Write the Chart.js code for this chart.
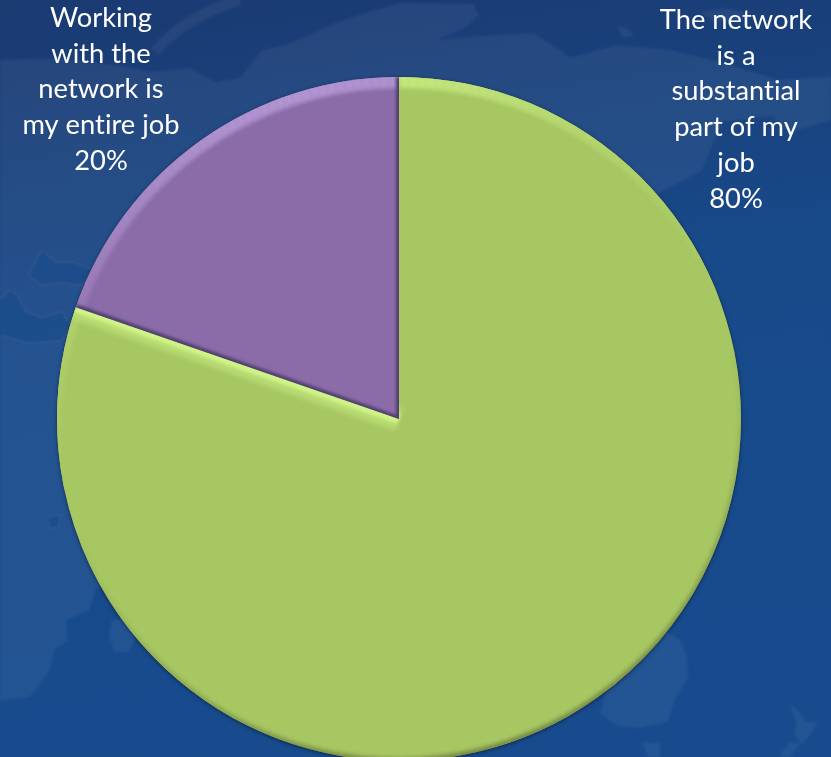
<!DOCTYPE html>
<html>
<head>
<meta charset="utf-8">
<script src="https://cdn.jsdelivr.net/npm/chart.js@4"></script>
<style>
    html, body { margin: 0; padding: 0; width: 831px; height: 757px; overflow: hidden; background: #174a8c; }
    #map { position: absolute; left: 0; top: 0; }
    #myChart { position: absolute; left: 0; top: 0; }
</style>
</head>
<body>
<!-- faint world map behind the chart -->
<svg id="map" width="831" height="757" viewBox="0 0 831 757">
    <defs>
        <linearGradient id="sky" x1="0.1" y1="0" x2="0.25" y2="1">
            <stop offset="0" stop-color="#1a3a72"/>
            <stop offset="0.45" stop-color="#184a8a"/>
            <stop offset="1" stop-color="#174b8d"/>
        </linearGradient>
        <filter id="soft"><feGaussianBlur stdDeviation="1.2"/></filter>
    </defs>
    <rect width="831" height="757" fill="url(#sky)"/>
    <g filter="url(#soft)">
        <g fill="#ffffff" fill-opacity="0.05">
            <path d="M0,60 L60,58 L120,66 L152,72 L190,68 L215,82 L240,78 L262,50 L285,45 L305,37 L335,23 L368,12 L400,3 L473,4 L479,15 L466,27 L437,40 L480,36 L533,33 L560,50 L570,58 L617,45 L670,50 L720,62 L780,80 L831,76 L831,120 L790,132 L772,116 L722,122 L702,170 L660,192 L600,260 L400,500 L150,560 L95,590 L90,610 L66,620 L68,640 L54,650 L50,670 L30,697 L0,701 Z"/>
            <path d="M612,635 L668,632 L680,640 L687,655 L688,678 L675,700 L668,722 L640,728 L618,726 L600,714 L606,690 Z"/>
            <path d="M112,620 L130,618 L135,640 L128,652 L114,652 L109,636 Z"/>
            <path d="M790,705 L800,712 L806,722 L818,722 L810,735 L802,745 L795,735 L796,722 Z"/>
            <path d="M790,742 L800,744 L790,757 L778,757 Z"/>
            <path d="M642,742 L660,743 L660,757 L648,757 Z"/>
            <path d="M700,12 L725,8 L745,12 L740,20 L715,22 Z"/>
            <path d="M618,26 L630,30 L634,36 L622,37 Z"/>
        </g>
        <path d="M155,52 C172,30 205,10 240,0" fill="none" stroke="#ffffff" stroke-opacity="0.05" stroke-width="11"/>
        <g fill="#174a8a" fill-opacity="0.55">
            <path d="M0,335 L30,343 L62,340 L70,326 L62,312 L42,318 L25,312 L18,296 L10,290 L4,296 L0,300 Z"/>
            <path d="M29,275 L42,251 L55,262 L72,262 L92,270 L82,285 L60,282 L42,285 Z"/>
            <path d="M48,518 L60,515 L58,528 L50,528 Z"/>
        </g>
    </g>
</svg>
<canvas id="myChart" width="831" height="775"></canvas>

<script>
const categories = ['The network is a substantial part of my job', 'Working with the network is my entire job'];
const shareValues = [80.3, 19.7];
const labelLines = [
    ['The network', 'is a', 'substantial', 'part of my', 'job'],
    ['Working', 'with the', 'network is', 'my entire job']
];
const sliceColors = ['#a7c763', '#8b6ca9'];
const lightColors = ['#cff387', '#bc9fdc'];
const darkColors = ['#56602f', '#4f3f6e'];

// label anchors, centre x and first line y
const labelAnchors = [[736, 20], [101, 18]];
const lineHeight = 35.8;

function hexToRgb(hex) {
    return [1, 3, 5].map(i => parseInt(hex.substr(i, 2), 16));
}
function mix(a, b, t) {
    var ca = hexToRgb(a), cb = hexToRgb(b);
    return 'rgb(' + ca.map((v, i) => Math.round(v + (cb[i] - v) * t)).join(',') + ')';
}
// how much a face with this normal looks at the light
function lit(nx, ny) {
    return nx * -0.28 + ny * -0.96;
}
function shade(i, v) {
    return v > 0 ? mix(sliceColors[i], lightColors[i], Math.min(1, v))
        : mix(sliceColors[i], darkColors[i], Math.min(1, -v));
}

const pieShadow = {
    id: 'pieShadow',
    beforeDatasetsDraw(chart) {
        const a = chart.getDatasetMeta(0).data[0];
        const ctx = chart.ctx;
        ctx.save();
        ctx.shadowColor = 'rgba(0,0,0,0.6)';
        ctx.shadowBlur = 4;
        ctx.shadowOffsetY = 1;
        ctx.fillStyle = '#6f8040';
        ctx.beginPath();
        ctx.arc(a.x, a.y, a.outerRadius - 0.5, 0, Math.PI * 2);
        ctx.fill();
        ctx.restore();
    }
};

const bevel = {
    id: 'bevel',
    afterDatasetsDraw(chart) {
        const ctx = chart.ctx;
        chart.getDatasetMeta(0).data.forEach((arc, i) => {
            const p = arc.getProps(['x', 'y', 'startAngle', 'endAngle', 'outerRadius']);
            ctx.save();
            ctx.beginPath();
            ctx.moveTo(p.x, p.y);
            ctx.arc(p.x, p.y, p.outerRadius, p.startAngle, p.endAngle);
            ctx.closePath();
            ctx.clip();
            ctx.lineCap = 'butt';

            // rim of the slice
            const step = Math.PI / 120;
            ctx.filter = 'blur(2.2px)';
            for (let t = p.startAngle; t < p.endAngle; t += step) {
                const mid = t + step / 2;
                const v = lit(Math.cos(mid), Math.sin(mid));
                if (Math.abs(v) < 0.08) continue;
                const w = v > 0 ? 3 + 8 * v : 1 + 1.6 * -v;
                ctx.strokeStyle = shade(i, v > 0 ? v * v * 0.8 : v * 0.7);
                ctx.lineWidth = w * 2;
                ctx.beginPath();
                ctx.arc(p.x, p.y, p.outerRadius, t, t + step + 0.006);
                ctx.stroke();
            }

            // the two straight edges
            [[p.startAngle, -1], [p.endAngle, 1]].forEach(edge => {
                const ang = edge[0];
                const nx = Math.cos(ang + edge[1] * Math.PI / 2);
                const ny = Math.sin(ang + edge[1] * Math.PI / 2);
                const v = lit(nx, ny);
                if (v > 0 && v <= 0.5) return;
                const strokes = v > 0.5
                    ? [[12, mix(sliceColors[i], lightColors[i], 0.45), 'blur(2.5px)'], [5, lightColors[i], 'blur(1.5px)']]
                    : [[3, darkColors[i], 'blur(1.4px)']];
                strokes.forEach(s => {
                    ctx.filter = s[2];
                    ctx.strokeStyle = s[1];
                    ctx.lineWidth = s[0] * 2;
                    ctx.beginPath();
                    ctx.moveTo(p.x, p.y);
                    ctx.lineTo(p.x + Math.cos(ang) * p.outerRadius, p.y + Math.sin(ang) * p.outerRadius);
                    ctx.stroke();
                });
            });
            ctx.restore();
        });
    }
};

const sliceLabels = {
    id: 'sliceLabels',
    afterDraw(chart) {
        const ctx = chart.ctx;
        const total = shareValues.reduce((a, b) => a + b, 0);
        ctx.save();
        ctx.font = '27.3px Lato, "Open Sans", sans-serif';
        ctx.letterSpacing = '0.01px'; // stops the ti ligature
        ctx.fillStyle = '#ffffff';
        ctx.textAlign = 'center';
        ctx.textBaseline = 'middle';
        labelLines.forEach((lines, i) => {
            const all = lines.concat(Math.round(shareValues[i] / total * 100) + '%');
            all.forEach((line, n) => {
                ctx.fillText(line, labelAnchors[i][0], labelAnchors[i][1] + n * lineHeight);
            });
        });
        ctx.restore();
    }
};

var ctx = document.getElementById('myChart').getContext('2d');
const myPieChart = new Chart(ctx, {
    type: 'pie',
    data: {
        labels: categories,
        datasets: [{
            data: shareValues,
            backgroundColor: sliceColors,
            borderWidth: 0
        }]
    },
    options: {
        responsive: false,
        animation: false,
        layout: { padding: { left: 57, right: 90, top: 77, bottom: 14 } },
        plugins: {
            legend: { display: false },
            tooltip: { enabled: false }
        }
    },
    plugins: [pieShadow, bevel, sliceLabels]
});
</script>
</body>
</html>
